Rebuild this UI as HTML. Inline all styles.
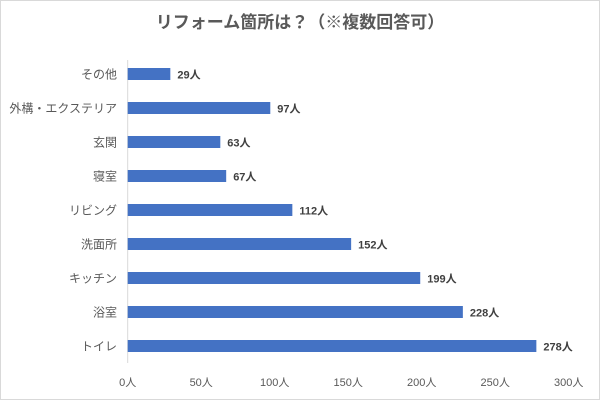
<!DOCTYPE html>
<html><head><meta charset="utf-8"><style>
body{margin:0;background:#fff}
svg{display:block;font-family:"Liberation Sans","Noto Sans CJK JP",sans-serif}
</style></head><body>
<svg width="600" height="400">
<rect x="0.5" y="0.5" width="599" height="399" fill="#fff" stroke="#d9d9d9"/>
<text x="300" y="28" text-anchor="middle" font-size="17" font-weight="bold" fill="#595959">リフォーム箇所は？（※複数回答可）</text>
<g id="plot"></g>
</svg>
<script>
const categories=["その他","外構・エクステリア","玄関","寝室","リビング","洗面所","キッチン","浴室","トイレ"];
const values=[29,97,63,67,112,152,199,228,278];
const ticks=[0,50,100,150,200,250,300];
const ns="http://www.w3.org/2000/svg";
const g=document.getElementById("plot");
const x0=127.7, scale=441/300;
const X=v=>x0+v*scale;
const Y=i=>74+i*34;
function mk(t,a){const e=document.createElementNS(ns,t);for(const k in a)e.setAttribute(k,a[k]);g.appendChild(e);return e;}
const ax=mk("line",{x1:x0,x2:x0,y1:60,y2:363,stroke:"#d9d9d9","stroke-width":1});


categories.forEach((c,i)=>{
  const y=Y(i);
  const r=mk("rect",{x:x0,y:y-6,width:X(values[i])-x0,height:12,fill:"#4472c4"});
  
  
  const l=mk("text",{x:117,y:y+4.5,"text-anchor":"end","font-size":12,fill:"#595959"});
  l.textContent=c;
  
  
  const v=mk("text",{x:X(values[i])+7,y:y+4.5,"font-size":11,"font-weight":"bold",fill:"#404040"});
  v.textContent=values[i]+"人";
  
  
});
ticks.forEach(t=>{
  const e=mk("text",{x:X(t),y:386,"text-anchor":"middle","font-size":11,fill:"#595959"});
  e.textContent=t+"人";
  
  
});
</script>
</body></html>
